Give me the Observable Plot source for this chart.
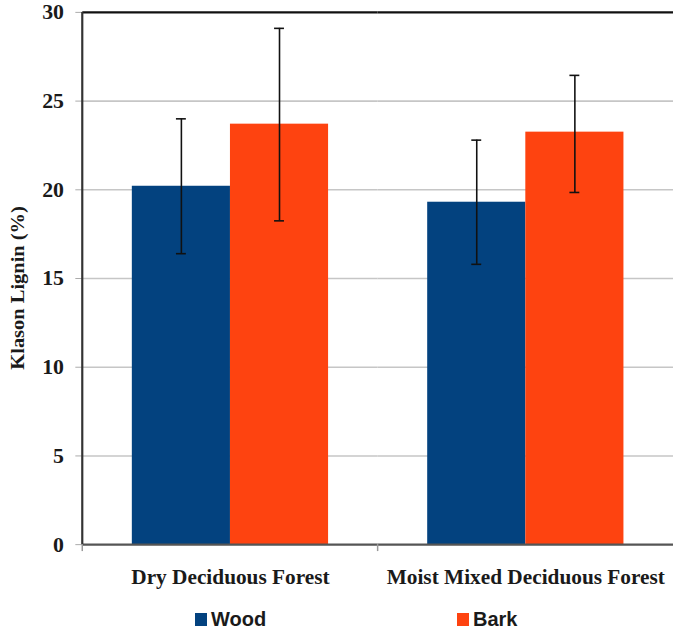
<!DOCTYPE html>
<html><head><meta charset="utf-8">
<script src="https://cdn.jsdelivr.net/npm/d3@7"></script>
<script src="https://cdn.jsdelivr.net/npm/@observablehq/plot@0.6"></script>
<style>
html,body{margin:0;padding:0;background:#fff;}
body{width:673px;height:632px;overflow:hidden;position:relative;}
#legend{position:relative;height:32px;font-family:"Liberation Sans",Arial,sans-serif;font-weight:bold;font-size:20px;color:#1a1a1a;}
.item{position:absolute;top:13px;display:flex;align-items:center;}
.sw{width:12px;height:13px;margin-right:4px;}
</style></head><body>
<div id="chart"></div>
<div id="legend"></div>
<script>
const forests = ["Dry Deciduous Forest", "Moist Mixed Deciduous Forest"];
const parts = ["Wood", "Bark"];
const woodMean = [20.2, 19.3];
const barkMean = [23.7, 23.25];
const woodLow = [16.4, 15.8];
const woodHigh = [24.0, 22.8];
const barkLow = [18.25, 19.85];
const barkHigh = [29.1, 26.45];
const yTicks = [0, 5, 10, 15, 20, 25, 30];
const yLabel = "Klason Lignin (%)";
const colors = ["#03427f", "#fe4310"];
const legendLeft = [195, 457];

const rows = [];
forests.forEach((f, i) => {
  rows.push({forest: f, part: "Wood", mean: woodMean[i], low: woodLow[i], high: woodHigh[i]});
  rows.push({forest: f, part: "Bark", mean: barkMean[i], low: barkLow[i], high: barkHigh[i]});
});

const serif = "'Liberation Serif', 'Times New Roman', serif";
const plot = Plot.plot({
  width: 679,
  height: 600,
  marginLeft: 82,
  marginRight: 0,
  marginTop: 12,
  marginBottom: 51,
  style: {background: "#fff", overflow: "visible"},
  fx: {domain: forests, padding: 0, label: null},
  x: {domain: parts, paddingInner: 0, paddingOuter: 0.5, axis: null},
  y: {domain: [0, 30], label: null},
  color: {domain: parts, range: colors},
  marks: [
    Plot.gridY(yTicks.filter(t => t > 0 && t < 30), {stroke: "#c6c6c6", strokeOpacity: 1, strokeWidth: 1.6}),
    Plot.barY(rows, {fx: "forest", x: "part", y: "mean", fill: "part"}),
    Plot.ruleX(rows, {fx: "forest", x: "part", y1: "low", y2: "high", stroke: "#111", strokeWidth: 1.6}),
    Plot.tickY(rows, {fx: "forest", x: "part", y: "low", stroke: "#111", strokeWidth: 1.6, insetLeft: 44.5, insetRight: 44.5}),
    Plot.tickY(rows, {fx: "forest", x: "part", y: "high", stroke: "#111", strokeWidth: 1.6, insetLeft: 44.5, insetRight: 44.5}),
    Plot.ruleY([30], {stroke: "#111", strokeWidth: 2.4}),
    Plot.ruleY([0], {stroke: "#555", strokeWidth: 2.4}),
    Plot.axisY(yTicks, {anchor: "left", tickSize: 7, stroke: "#aaa", tickPadding: 12,
      fontSize: 22, fontFamily: serif, fontWeight: "bold", fill: "#1a1a1a", label: null}),
    Plot.axisFx({anchor: "bottom", tickSize: 0, tickPadding: 24, fontSize: 21.5,
      fontFamily: serif, fontWeight: "bold", fill: "#1a1a1a", label: null})
  ]
});
document.getElementById("chart").appendChild(plot);

// left axis line, band-boundary ticks and y label, placed with the plot's scales
const svg = d3.select(plot);
const fx = plot.scale("fx"), y = plot.scale("y");
const x0 = fx.apply(forests[0]);
svg.append("line").attr("x1", x0).attr("x2", x0)
  .attr("y1", y.apply(30)).attr("y2", y.apply(0))
  .attr("stroke", "#333").attr("stroke-width", 2.2);
forests.forEach(f => {
  const bx = fx.apply(f);
  svg.append("line").attr("x1", bx).attr("x2", bx)
    .attr("y1", y.apply(0)).attr("y2", y.apply(0) + 7)
    .attr("stroke", "#999").attr("stroke-width", 1.5);
});
svg.append("text")
  .attr("transform", `translate(24,${(y.apply(0) + y.apply(30)) / 2 + 10}) rotate(-90)`)
  .attr("text-anchor", "middle")
  .attr("font-family", serif).attr("font-weight", "bold").attr("font-size", 20)
  .attr("textLength", 165).attr("lengthAdjust", "spacingAndGlyphs")
  .attr("fill", "#1a1a1a")
  .text(yLabel);

const legend = d3.select("#legend");
parts.forEach((p, i) => {
  const it = legend.append("div").attr("class", "item").style("left", legendLeft[i] + "px");
  it.append("div").attr("class", "sw").style("background", colors[i]);
  it.append("span").text(p);
});
</script>
</body></html>
